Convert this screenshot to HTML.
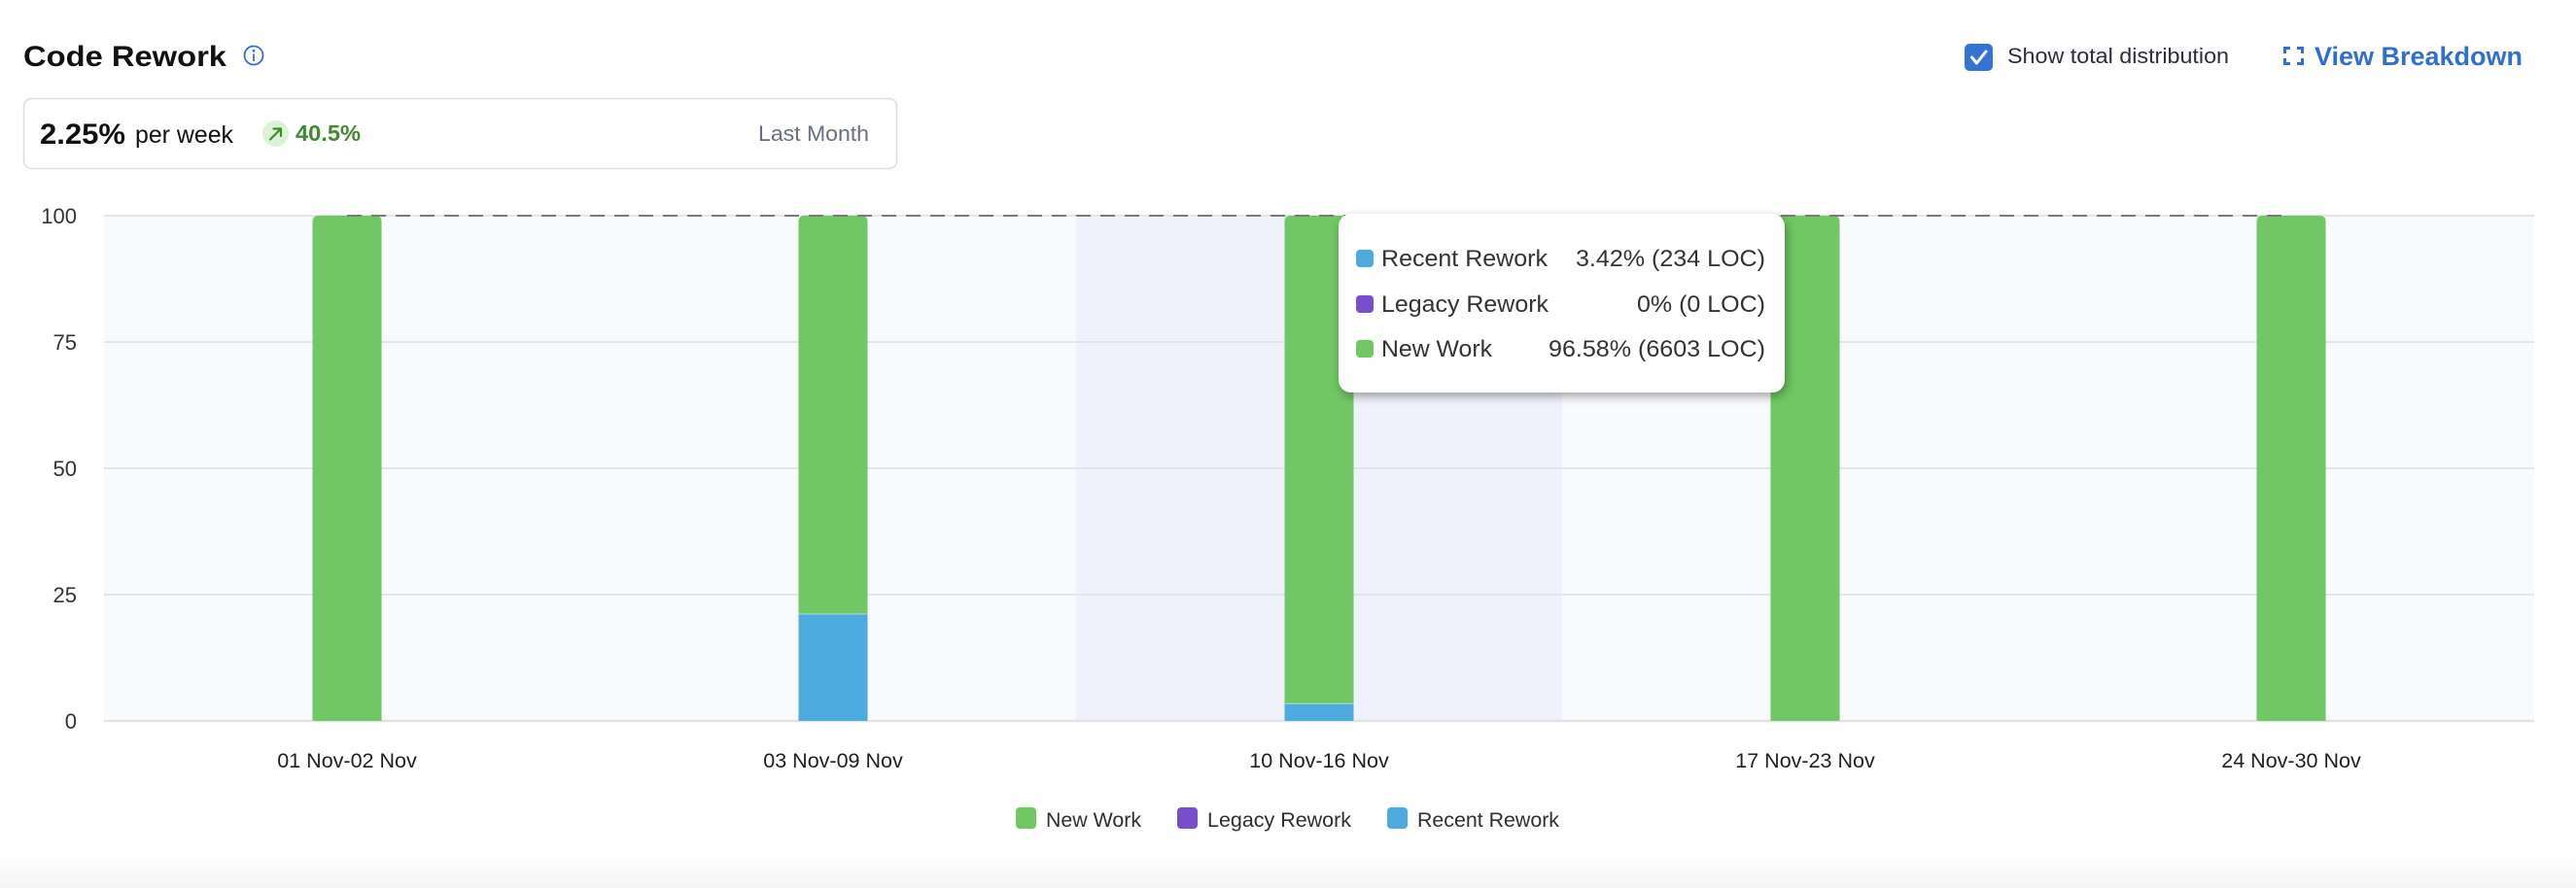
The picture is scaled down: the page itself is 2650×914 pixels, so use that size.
<!DOCTYPE html>
<html>
<head>
<meta charset="utf-8">
<style>
  html, body { margin: 0; padding: 0; background: #ffffff; }
  body { width: 2650px; height: 914px; overflow: hidden; }
  svg { display: block; font-family: "Liberation Sans", Arial, sans-serif; }
</style>
</head>
<body>
<svg width="2650" height="914" viewBox="0 0 2650 914" xmlns="http://www.w3.org/2000/svg">
  <defs>
    <linearGradient id="bottomFade" x1="0" y1="0" x2="0" y2="1">
      <stop offset="0" stop-color="#ffffff"/>
      <stop offset="1" stop-color="#f5f5f6"/>
    </linearGradient>
    <filter id="tipShadow" x="-10%" y="-10%" width="125%" height="135%">
      <feDropShadow dx="2" dy="4" stdDeviation="5" flood-color="#000" flood-opacity="0.35"/>
    </filter>
  </defs>

  <rect x="0" y="0" width="2650" height="914" fill="#ffffff"/>
  <rect x="0" y="878" width="2650" height="36" fill="url(#bottomFade)"/>

  <!-- Title -->
  <text x="24" y="68" font-size="30" font-weight="bold" fill="#111111" textLength="209" lengthAdjust="spacingAndGlyphs">Code Rework</text>
  <circle cx="261" cy="57" r="9.5" fill="none" stroke="#2f6fd0" stroke-width="1.8"/>
  <circle cx="261" cy="52.3" r="1.4" fill="#2f6fd0"/>
  <line x1="261" y1="55.5" x2="261" y2="63" stroke="#2f6fd0" stroke-width="1.8"/>

  <!-- Summary card -->
  <rect x="24.5" y="101.5" width="898" height="72" rx="8" ry="8" fill="#ffffff" stroke="#dcdde3" stroke-width="1.5"/>
  <text x="41" y="148" font-size="30" font-weight="bold" fill="#111111" textLength="88" lengthAdjust="spacingAndGlyphs">2.25%</text>
  <text x="139" y="147" font-size="25" fill="#111111" textLength="101" lengthAdjust="spacingAndGlyphs">per week</text>
  <circle cx="283.5" cy="137.5" r="13.5" fill="#dcf2d6"/>
  <line x1="278" y1="143.5" x2="288.5" y2="133" stroke="#3d8a2f" stroke-width="2.2" stroke-linecap="round"/>
  <polyline points="281.5,132.5 289,132.5 289,140" fill="none" stroke="#3d8a2f" stroke-width="2.2" stroke-linecap="round" stroke-linejoin="round"/>
  <text x="304" y="145" font-size="23" font-weight="bold" fill="#3f8a2f" textLength="67" lengthAdjust="spacingAndGlyphs">40.5%</text>
  <text x="780" y="145" font-size="22.5" fill="#6b6e80" textLength="114" lengthAdjust="spacingAndGlyphs">Last Month</text>

  <!-- Right header -->
  <rect x="2021" y="45" width="29" height="28" rx="5" ry="5" fill="#3473d1"/>
  <polyline points="2028.5,59 2033.5,65 2043,53" fill="none" stroke="#ffffff" stroke-width="3" stroke-linecap="round" stroke-linejoin="round"/>
  <text x="2065" y="65" font-size="22.5" fill="#2c2f3a" textLength="228" lengthAdjust="spacingAndGlyphs">Show total distribution</text>
  <g fill="none" stroke="#2f6fd0" stroke-width="3">
    <polyline points="2350.5,55 2350.5,49.5 2356,49.5"/>
    <polyline points="2363,49.5 2368.5,49.5 2368.5,55"/>
    <polyline points="2350.5,60 2350.5,65.5 2356,65.5"/>
    <polyline points="2363,65.5 2368.5,65.5 2368.5,60"/>
  </g>
  <text x="2381" y="67" font-size="27" font-weight="bold" fill="#2f6fd0" textLength="214" lengthAdjust="spacingAndGlyphs">View Breakdown</text>

  <!-- Plot background -->
  <rect x="107" y="222" width="2500" height="520" fill="#f9fafd"/>
  <rect x="1107" y="222" width="500" height="520" fill="#eff1fc"/>

  <!-- Gridlines -->
  <g stroke="#e4e5ea" stroke-width="2">
    <line x1="107" y1="222" x2="2607" y2="222"/>
    <line x1="107" y1="352" x2="2607" y2="352"/>
    <line x1="107" y1="482" x2="2607" y2="482"/>
    <line x1="107" y1="612" x2="2607" y2="612"/>
  </g>
  <line x1="107" y1="742" x2="2607" y2="742" stroke="#e2e2e5" stroke-width="2.5"/>

  <!-- Y labels -->
  <g font-size="22" fill="#333333" text-anchor="end">
    <text x="79" y="230">100</text>
    <text x="79" y="360">75</text>
    <text x="79" y="490">50</text>
    <text x="79" y="620">25</text>
    <text x="79" y="750">0</text>
  </g>

  <!-- Bars -->
  <!-- bar 1 -->
  <path d="M321.5,742 L321.5,228 Q321.5,222 327.5,222 L386.5,222 Q392.5,222 392.5,228 L392.5,742 Z" fill="#71c764"/>
  <!-- bar 2 -->
  <path d="M821.5,632 L821.5,228 Q821.5,222 827.5,222 L886.5,222 Q892.5,222 892.5,228 L892.5,632 Z" fill="#71c764"/>
  <rect x="821.5" y="632" width="71" height="110" fill="#4eabdf"/>
  <line x1="821.5" y1="632" x2="892.5" y2="632" stroke="#ffffff" stroke-opacity="0.5" stroke-width="1"/>
  <!-- bar 3 -->
  <path d="M1321.5,724.2 L1321.5,228 Q1321.5,222 1327.5,222 L1386.5,222 Q1392.5,222 1392.5,228 L1392.5,724.2 Z" fill="#71c764"/>
  <rect x="1321.5" y="724.2" width="71" height="17.8" fill="#4eabdf"/>
  <line x1="1321.5" y1="724.2" x2="1392.5" y2="724.2" stroke="#ffffff" stroke-opacity="0.5" stroke-width="1"/>
  <!-- bar 4 -->
  <path d="M1821.5,742 L1821.5,228 Q1821.5,222 1827.5,222 L1886.5,222 Q1892.5,222 1892.5,228 L1892.5,742 Z" fill="#71c764"/>
  <!-- bar 5 -->
  <path d="M2321.5,742 L2321.5,228 Q2321.5,222 2327.5,222 L2386.5,222 Q2392.5,222 2392.5,228 L2392.5,742 Z" fill="#71c764"/>

  <!-- Dashed total line -->
  <line x1="357" y1="222" x2="2357" y2="222" stroke="#7a7a7a" stroke-width="2" stroke-dasharray="15 10"/>

  <!-- X labels -->
  <g font-size="21.5" fill="#1d1f26" text-anchor="middle">
    <text x="357" y="790">01 Nov-02 Nov</text>
    <text x="857" y="790">03 Nov-09 Nov</text>
    <text x="1357" y="790">10 Nov-16 Nov</text>
    <text x="1857" y="790">17 Nov-23 Nov</text>
    <text x="2357" y="790">24 Nov-30 Nov</text>
  </g>

  <!-- Legend -->
  <rect x="1045" y="831" width="21" height="22" rx="4" fill="#71c764"/>
  <text x="1076" y="851" font-size="21.5" fill="#2f2f33" textLength="98" lengthAdjust="spacingAndGlyphs">New Work</text>
  <rect x="1211" y="831" width="21" height="22" rx="4" fill="#774fcc"/>
  <text x="1242" y="851" font-size="21.5" fill="#2f2f33" textLength="148" lengthAdjust="spacingAndGlyphs">Legacy Rework</text>
  <rect x="1427" y="831" width="21" height="22" rx="4" fill="#4eabdf"/>
  <text x="1458" y="851" font-size="21.5" fill="#2f2f33" textLength="146" lengthAdjust="spacingAndGlyphs">Recent Rework</text>

  <!-- Tooltip -->
  <rect x="1377" y="220" width="459" height="184" rx="13" ry="13" fill="#ffffff" filter="url(#tipShadow)"/>
  <rect x="1395" y="257" width="18" height="18" rx="4" fill="#4eabdf"/>
  <rect x="1395" y="304" width="18" height="18" rx="4" fill="#774fcc"/>
  <rect x="1395" y="350" width="18" height="18" rx="4" fill="#71c764"/>
  <g font-size="24.5" fill="#333333">
    <text x="1421" y="274" textLength="171" lengthAdjust="spacingAndGlyphs">Recent Rework</text>
    <text x="1421" y="321" textLength="172" lengthAdjust="spacingAndGlyphs">Legacy Rework</text>
    <text x="1421" y="367" textLength="114" lengthAdjust="spacingAndGlyphs">New Work</text>
  </g>
  <g font-size="24.5" fill="#333333" text-anchor="end">
    <text x="1816" y="274" textLength="195" lengthAdjust="spacingAndGlyphs">3.42% (234 LOC)</text>
    <text x="1816" y="321" textLength="132" lengthAdjust="spacingAndGlyphs">0% (0 LOC)</text>
    <text x="1816" y="367" textLength="223" lengthAdjust="spacingAndGlyphs">96.58% (6603 LOC)</text>
  </g>
</svg>
</body>
</html>
